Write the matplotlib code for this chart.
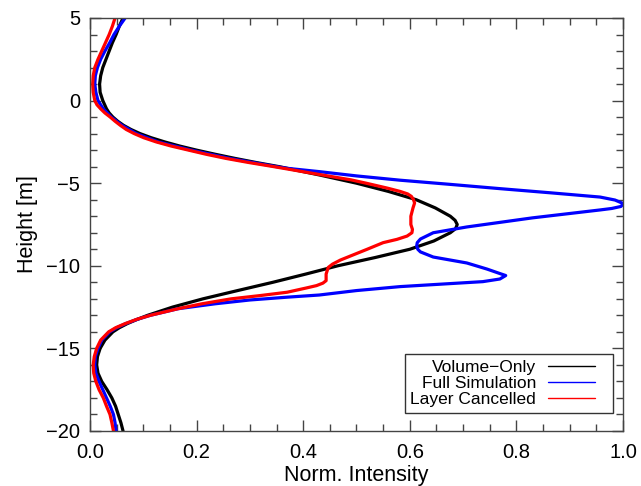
import matplotlib
matplotlib.use("Agg")
import matplotlib.pyplot as plt
from matplotlib.ticker import MultipleLocator
from matplotlib.legend_handler import HandlerLine2D

plt.rcParams['font.family'] = ['Liberation Sans', 'DejaVu Sans']

# Volume-Only (black)
vol_h = [5, 4.5, 4, 3.5, 3, 2.5, 2, 1.5, 1, 0.5, 0, -0.5, -0.75, -1, -1.25, -1.5, -1.75,
         -2, -2.25, -2.5, -2.75, -3, -3.25, -3.5, -3.75, -4, -4.5, -5, -5.5, -6, -6.5,
         -7, -7.25, -7.5, -7.75, -8, -8.5, -9, -9.5, -10, -10.5, -11, -11.5, -12, -12.5,
         -13, -13.25, -13.5, -13.75, -14, -14.5, -15, -15.5, -16, -16.5, -17, -17.5, -18,
         -18.5, -19, -19.5, -20]
vol_i = [0.062, 0.055, 0.049, 0.042, 0.036, 0.030, 0.024, 0.020, 0.018, 0.019, 0.024,
         0.031, 0.036, 0.043, 0.052, 0.063, 0.077, 0.094, 0.115, 0.14, 0.168, 0.20, 0.235,
         0.272, 0.312, 0.355, 0.43, 0.50, 0.56, 0.612, 0.648, 0.676, 0.685, 0.689, 0.686,
         0.676, 0.645, 0.60, 0.535, 0.465, 0.405, 0.343, 0.277, 0.212, 0.155, 0.108, 0.088,
         0.07, 0.055, 0.043, 0.028, 0.019, 0.014, 0.0125, 0.015, 0.022, 0.032, 0.041,
         0.048, 0.053, 0.058, 0.062]

# Full Simulation (blue)
full_h = [5, 4.5, 4, 3.5, 3, 2.5, 2, 1.5, 1, 0.5, 0, -0.5, -1, -1.5, -2, -2.5, -3, -3.5,
          -4, -4.1, -4.3, -4.56, -4.82, -5.07, -5.33, -5.58, -5.84, -6.02, -6.2, -6.29,
          -6.41, -6.53, -6.62, -7.1, -7.65, -8.0, -8.38, -8.6, -8.8, -9.0, -9.16, -9.47,
          -9.83, -10.2, -10.47, -10.59, -10.8, -10.96, -11.26, -11.5, -11.77, -11.9,
          -12.07, -12.3, -12.6, -13, -13.25, -13.5, -13.75, -14, -14.5, -15, -15.5, -16,
          -16.5, -17, -17.5, -18, -18.5, -19, -19.5, -20]
full_i = [0.066, 0.055, 0.045, 0.037, 0.028, 0.02, 0.014, 0.01, 0.009, 0.011, 0.015, 0.025,
          0.04, 0.06, 0.087, 0.128, 0.19, 0.262, 0.35, 0.37, 0.43, 0.50, 0.582, 0.675,
          0.769, 0.863, 0.957, 0.985, 0.998, 1.0, 0.996, 0.979, 0.957, 0.83, 0.707, 0.644,
          0.62, 0.614, 0.613, 0.615, 0.62, 0.644, 0.707, 0.745, 0.769, 0.78, 0.769, 0.737,
          0.582, 0.50, 0.43, 0.37, 0.30, 0.235, 0.165, 0.113, 0.088, 0.067, 0.05, 0.037,
          0.022, 0.015, 0.01, 0.009, 0.011, 0.017, 0.024, 0.031, 0.038, 0.044, 0.047, 0.049]

# Layer Cancelled (red)
lay_h = [5, 4.5, 4, 3.5, 3, 2.5, 2, 1.5, 1, 0.5, 0, -0.25, -0.5, -0.75, -1, -1.25, -1.5,
         -1.75, -2, -2.25, -2.5, -2.75, -3, -3.25, -3.5, -3.75, -4, -4.25, -4.5, -4.8, -5,
         -5.3, -5.5, -5.65, -5.8, -6, -6.2, -6.5, -7, -7.5, -7.8, -8.0, -8.2, -8.4, -8.6,
         -9.0, -9.65, -9.9, -10.1, -10.5, -10.9, -11.05, -11.2, -11.35, -11.6, -11.8, -12,
         -12.3, -12.6, -13, -13.25, -13.5, -13.75, -14, -14.5, -15, -15.5, -16, -16.5,
         -17, -17.5, -18, -18.5, -19, -19.5, -20]
lay_i = [0.047, 0.042, 0.036, 0.029, 0.022, 0.015, 0.009, 0.006, 0.005, 0.006, 0.009,
         0.013, 0.02, 0.028, 0.038, 0.047, 0.057, 0.068, 0.083, 0.101, 0.124, 0.152, 0.185,
         0.218, 0.255, 0.298, 0.345, 0.39, 0.435, 0.49, 0.518, 0.558, 0.582, 0.596, 0.603,
         0.607, 0.609, 0.606, 0.602, 0.602, 0.605, 0.604, 0.595, 0.576, 0.55, 0.52, 0.47,
         0.455, 0.447, 0.443, 0.443, 0.437, 0.425, 0.405, 0.37, 0.32, 0.265, 0.21, 0.165,
         0.113, 0.087, 0.066, 0.048, 0.035, 0.02, 0.0125, 0.008, 0.006, 0.007, 0.011,
         0.017, 0.025, 0.031, 0.0375, 0.041, 0.044]

series_labels = ["Volume\u2212Only", "Full Simulation", "Layer Cancelled"]
x_ticks = [0.0, 0.2, 0.4, 0.6, 0.8, 1.0]
y_ticks = [5, 0, -5, -10, -15, -20]


class ShortLine(HandlerLine2D):
    def create_artists(self, legend, orig_handle, xdescent, ydescent, width,
                       height, fontsize, trans):
        arts = super().create_artists(legend, orig_handle, xdescent, ydescent,
                                      width, height, fontsize, trans)
        x0 = -xdescent
        y0 = arts[0].get_ydata()[0]
        arts[0].set_data([x0, x0 + width * 0.80], [y0, y0])
        return arts


fig = plt.figure(figsize=(6.41, 4.86), dpi=100)
ax = fig.add_axes([0.1404, 0.1132, 0.8315, 0.8498])

kw = dict(lw=2.3, solid_joinstyle='round', solid_capstyle='round')
l1, = ax.plot(vol_i, vol_h, color='black', label=series_labels[0], **kw)
l2, = ax.plot(full_i, full_h, color='#0000ff', label=series_labels[1], **kw)
l3, = ax.plot(lay_i, lay_h, color='#ff0000', label=series_labels[2], **kw)

ax.set_xlim(0, 1.0)
ax.set_ylim(-20, 5)
ax.set_xticks(x_ticks)
ax.set_xticklabels([f"{v:.1f}" for v in x_ticks])
ax.set_yticks(y_ticks)
ax.set_yticklabels([str(v).replace('-', '\u2212') for v in y_ticks])
ax.xaxis.set_minor_locator(MultipleLocator(0.05))
ax.yaxis.set_minor_locator(MultipleLocator(1))
ax.tick_params(which='both', direction='in', top=True, right=True,
               color='#444444', labelsize=14.5)
ax.tick_params(axis='x', which='both', pad=9)
ax.tick_params(axis='y', which='both', pad=7)
ax.tick_params(which='major', length=8, width=1)
ax.tick_params(which='minor', length=5, width=1)
for s in ax.spines.values():
    s.set_color('#444444')
    s.set_linewidth(1.0)

ax.set_xlabel("Norm. Intensity", fontsize=15.5, labelpad=2)
ax.set_ylabel("Height [m]", fontsize=15.5, labelpad=6)

leg = ax.legend(loc='lower right', bbox_to_anchor=(0.981, 0.0436),
                markerfirst=False, fancybox=False,
                edgecolor='#333333', framealpha=1, fontsize=12.5,
                handlelength=3.4, handletextpad=0.7, labelspacing=0.06,
                borderpad=0.32, borderaxespad=0.0,
                handler_map={l1: ShortLine(), l2: ShortLine(), l3: ShortLine()})
leg.get_frame().set_linewidth(1.0)
for ln in leg.get_lines():
    ln.set_linewidth(1.0)

fig.savefig("out.png", dpi=100)
